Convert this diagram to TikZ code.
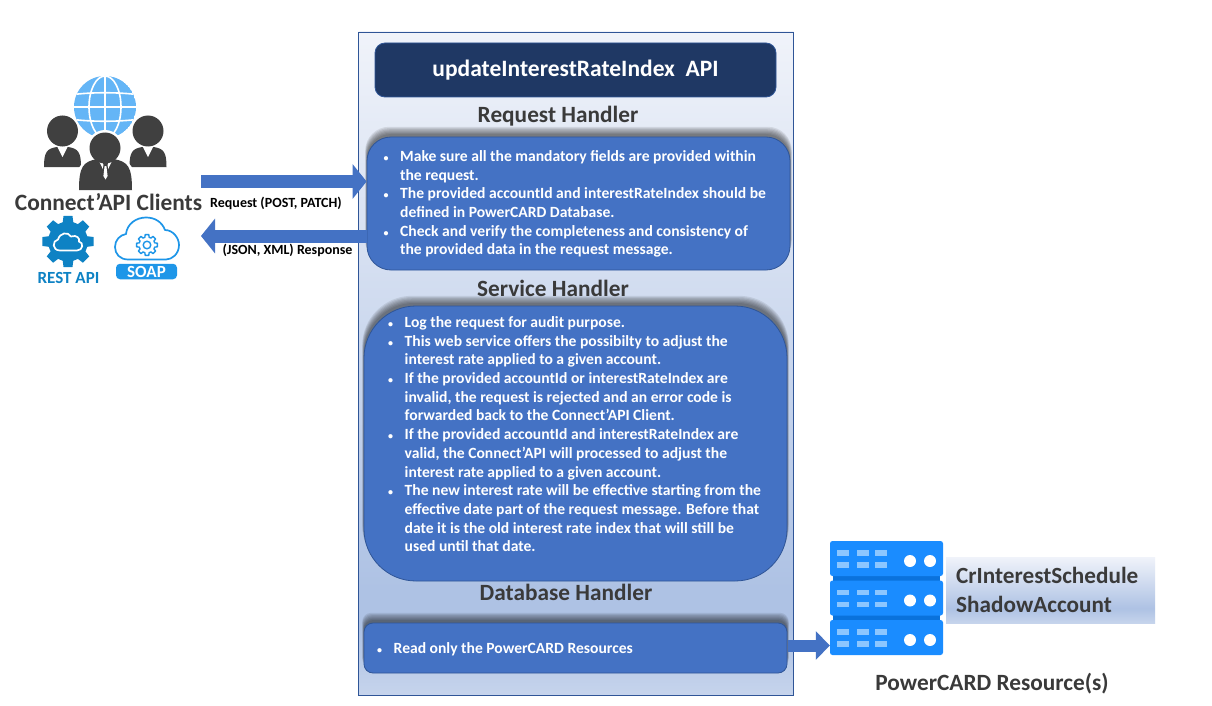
\documentclass[tikz,border=0pt]{standalone}
\usepackage{fontspec}
\setmainfont{Carlito}
\usetikzlibrary{arrows.meta}
\definecolor{panelTop}{HTML}{F0F3FA}
\definecolor{panelMid}{HTML}{AEC2E4}
\definecolor{panelBot}{HTML}{C6D4EC}
\definecolor{boxBlue}{HTML}{4472C4}
\definecolor{boxEdge}{HTML}{2F5597}
\definecolor{navy}{HTML}{1F3864}
\definecolor{headText}{HTML}{3A3A3A}
\definecolor{srv}{HTML}{1A8CFF}
\definecolor{srvDark}{HTML}{0A72DC}
\definecolor{srvLite}{HTML}{8CC6FF}
\definecolor{globe}{HTML}{64B5F6}
\definecolor{people}{HTML}{404040}
\definecolor{restBlue}{HTML}{0E82C4}
\definecolor{soapBlue}{HTML}{1E96E8}
\pgfdeclareverticalshading{panelgrad}{100bp}{color(0bp)=(panelBot); color(25bp)=(panelBot); color(30bp)=(panelMid); color(33bp)=(panelMid); color(75bp)=(panelTop); color(100bp)=(panelTop)}
\pgfdeclareverticalshading{labelgrad}{100bp}{color(0bp)=(panelBot); color(25bp)=(panelBot); color(36bp)=(panelMid); color(75bp)=(panelTop); color(100bp)=(panelTop)}
\tikzset{
  x=1pt,y=-1pt,
  handlerbox/.style={draw=boxEdge,line width=.8pt,fill=boxBlue,inner sep=0pt,text=white},
  headtext/.style={font=\fontsize{23.3}{26}\selectfont\bfseries,text=headText,inner sep=0pt},
  arrowlabel/.style={font=\fontsize{14}{16}\selectfont\bfseries,text=black,inner sep=0pt},
  bodytext/.style={anchor=north west,inner sep=0pt,text=white},
  blockarrow/.style={draw=boxBlue,line width=13pt,-{Triangle[width=34pt,length=14pt,fill=boxBlue]}},
  srvunit/.style={fill=srv,rounded corners=2.5pt,minimum width=113pt,minimum height=35pt,inner sep=0pt},
}
\newcommand\softshade[5]{% x1 y1 x2 y2 radius
  \foreach \k in {0,1,...,6}{
    \fill[black,opacity=.085,rounded corners=#5]
      ({#1-.3*\k},{#2-3-1.2*\k}) rectangle ({#3+.3*\k},{#4-8+.4*\k});
  }}
\newcommand\gearshape[6]{% cx cy Ro Ri teeth pathopts
  \pgfmathsetmacro\gs{360/#5}
  \path[#6] ({-.22*\gs}:#3) \foreach \i in {1,...,#5}{
     -- ({(\i-1+.22)*\gs}:#3) -- ({(\i-1+.34)*\gs}:#4) -- ({(\i-1+.66)*\gs}:#4) -- ({(\i-1+.78)*\gs}:#3)
  } -- cycle;}
\newcommand\bodytable[1]{\fontsize{15.6}{18.72}\selectfont\bfseries\begin{tabular}{@{}p{16.5pt}@{}l@{}}#1\end{tabular}}
\newcommand\bl{{\fontsize{10}{10}\selectfont\textbullet}}
\newcommand\person[4]{% cx top halfwidth bottom
  \fill[people] ({#1-#3},#4) .. controls ({#1-#3},{#2+.25*(#4-#2)}) and ({#1-.85*#3},{#2+.08*(#4-#2)}) .. ({#1-.3*#3},#2)
     -- ({#1+.3*#3},#2) .. controls ({#1+.85*#3},{#2+.08*(#4-#2)}) and ({#1+#3},{#2+.25*(#4-#2)}) .. ({#1+#3},#4) -- cycle;
  \fill[white] ({#1-.3*#3},{#2-1}) -- ({#1+.3*#3},{#2-1}) -- (#1,{#2+.5*(#4-#2)}) -- cycle;
}
\begin{document}
\begin{tikzpicture}
\useasboundingbox (0,0) rectangle (1212,706);
\fill[white] (0,0) rectangle (1212,706);

% panel
\node[draw=boxEdge,line width=.9pt,shading=panelgrad,minimum width=435pt,minimum height=663pt,inner sep=0pt] (panel) at (576,363.5) {};

% box shades
\softshade{367}{137}{790}{270}{24pt}
\softshade{364}{306}{787}{581}{50pt}
\softshade{364}{623}{787}{673}{9pt}

% title
\node[handlerbox,fill=navy,rounded corners=10pt,minimum width=401pt,minimum height=54pt,font=\fontsize{23.5}{26}\selectfont\bfseries] (title) at (575.5,70) {updateInterestRateIndex\ \ API};

% headings
\node[headtext] (reqHead) at (558,116.5) {Request Handler};
\node[headtext] (svcHead) at (553,288.5) {Service Handler};
\node[headtext] (dbHead) at (566,592) {Database Handler};

% handler boxes
\node[handlerbox,rounded corners=24pt,minimum width=423pt,minimum height=133pt] (reqBox) at (578.5,203.5) {};
\node[handlerbox,rounded corners=52pt,minimum width=423pt,minimum height=275pt] (svcBox) at (575.5,443.5) {};
\node[handlerbox,rounded corners=9pt,minimum width=423pt,minimum height=50pt] (dbBox) at (575.5,648) {};

% body texts
\node[bodytext] (reqText) at (383.5,148) {\bodytable{
\bl & Make sure all the mandatory fields are provided within\\
 & the request.\\
\bl & The provided accountId and interestRateIndex should be\\
 & defined in PowerCARD Database.\\
\bl & Check and verify the completeness and consistency of\\
 & the provided data in the request message.
}};
\node[bodytext] (svcText) at (388,314) {\bodytable{
\bl & Log the request for audit purpose.\\
\bl & This web service offers the possibilty to adjust the\\
 & interest rate applied to a given account.\\
\bl & If the provided accountId or interestRateIndex are\\
 & invalid, the request is rejected and an error code is\\
 & forwarded back to the Connect’API Client.\\
\bl & If the provided accountId and interestRateIndex are\\
 & valid, the Connect’API will processed to adjust the\\
 & interest rate applied to a given account.\\
\bl & The new interest rate will be effective starting from the\\
 & effective date part of the request message. Before that\\
 & date it is the old interest rate index that will still be\\
 & used until that date.
}};
\node[bodytext] (dbText) at (377,640) {\bodytable{\bl & Read only the PowerCARD Resources}};

% globe
\begin{scope}
\clip (105,107) circle (31);
\fill[globe] (105,107) circle (31);
\draw[white,line width=1.6pt] (105,70) -- (105,140);
\draw[white,line width=1.6pt] (105,107) ellipse (16 and 31);
\draw[white,line width=1.6pt] (70,95) .. controls (90,92) and (120,92) .. (140,95);
\draw[white,line width=1.6pt] (70,119) .. controls (90,122) and (120,122) .. (140,119);
\draw[white,line width=1.6pt] (70,107) -- (140,107);
\end{scope}

% people
\person{62.5}{147}{18.5}{167}
\person{148}{147}{18.5}{167}
\fill[people] (62.5,131) circle (15.5);
\fill[people] (148,131) circle (15.5);
\fill[white] (105,148) circle (18);
\fill[white] (72,190) .. controls (74,168) and (85,160) .. (92,155) -- (118,155) .. controls (127,160) and (137,168) .. (139,190) -- cycle;
\person{105.5}{159}{26.5}{190}
\fill[people] (105,148) circle (15.5);
\fill[people] (102.5,161) -- (108.5,161) -- (107.5,165) -- (109,175) -- (105.5,181) -- (102,175) -- (103.5,165) -- cycle;
\fill[white] (104.6,166) -- (106.4,166) -- (107.6,176) -- (105.5,179.5) -- (103.4,176) -- cycle;

\node[font=\fontsize{23.4}{26}\selectfont\bfseries,text=headText,inner sep=0pt] (clients) at (108.5,202.5) {Connect’API Clients};

% rest gear
\begin{scope}[shift={(68,241.5)}]
\gearshape{0}{0}{26}{20}{8}{fill=restBlue}
\draw[white,line width=1.7pt] (-8,9) .. controls (-16,9) and (-16,-1) .. (-10,-2) .. controls (-8,-9) and (0,-10) .. (3,-5) .. controls (9,-7) and (12,-3) .. (11,0) .. controls (16,1) and (15,9) .. (9,9) -- cycle;
\end{scope}
\node[font=\fontsize{17}{18}\selectfont\bfseries,text=restBlue,inner sep=0pt] (rest) at (68.5,278) {REST API};

% soap cloud
\draw[soapBlue,line width=1.7pt,line join=round] (128,259.5) .. controls (120,259.5) and (115,254) .. (115,247) .. controls (115,240) and (120,235) .. (126,234) .. controls (127,224) and (136,217.5) .. (146,217.5) .. controls (155,217.5) and (162,222) .. (165,230) .. controls (173,230) and (179,238) .. (179,245) .. controls (179,254) and (172,259.5) .. (166,259.5) -- cycle;
\begin{scope}[shift={(147,245)}]
\gearshape{0}{0}{10.5}{8}{8}{draw=soapBlue,line width=1.4pt,line join=round}
\draw[soapBlue,line width=1.4pt] (0,0) circle (3.8);
\end{scope}
\node[fill=soapBlue,rounded corners=4pt,minimum width=61pt,minimum height=15.5pt,inner sep=0pt,text=white,font=\fontsize{17}{18}\selectfont\bfseries] (soap) at (146.5,271.5) {SOAP};

% servers
\fill[srvDark] (833,570) rectangle (940,630);
\node[srvunit] (srvA) at (886.5,558.5) {};
\node[srvunit] (srvB) at (886.5,598) {};
\node[srvunit] (srvC) at (886.5,637.5) {};
\foreach \yy in {558.5,598,637.5}{
  \foreach \xx in {843,863,881}{
    \fill[srvLite] ({\xx-6},{\yy-8.5}) rectangle ({\xx+6},{\yy-3});
    \fill[srvLite] ({\xx-6},{\yy+3.5}) rectangle ({\xx+6},{\yy+9});
  }
  \fill[white] (910,{\yy+2.5}) circle (6);
  \fill[white] (930,{\yy+2.5}) circle (6);
}

% resource label
\node[shading=labelgrad,minimum width=209pt,minimum height=66pt,inner sep=0pt] (resBox) at (1050.5,590) {};
\node[anchor=north west,inner sep=0pt,align=left,text=headText,font=\fontsize{23.2}{28.5}\selectfont\bfseries] (resText) at (956,567.5) {CrInterestSchedule\\ShadowAccount};
\node[font=\fontsize{23.3}{26}\selectfont\bfseries,text=headText,inner sep=0pt] (resLabel) at (992,683.5) {PowerCARD Resource(s)};

% connectors
\coordinate (reqStart) at (201,181.5);
\coordinate (respEnd) at (201,236);
\coordinate (dbOut) at (788,645.5);
\draw[blockarrow] (reqStart) -- (reqStart -| reqBox.west);
\draw[blockarrow] (reqBox.west |- respEnd) -- (respEnd);
\draw[draw=boxBlue,line width=12pt,-{Triangle[width=28pt,length=14pt,fill=boxBlue]}] (dbOut) -- (dbOut -| srvC.west);

% arrow labels
\node[arrowlabel] (reqLabel) at (276,203.5) {Request (POST, PATCH)};
\node[arrowlabel] (respLabel) at (287.5,250) {(JSON, XML) Response};
\end{tikzpicture}
\end{document}
